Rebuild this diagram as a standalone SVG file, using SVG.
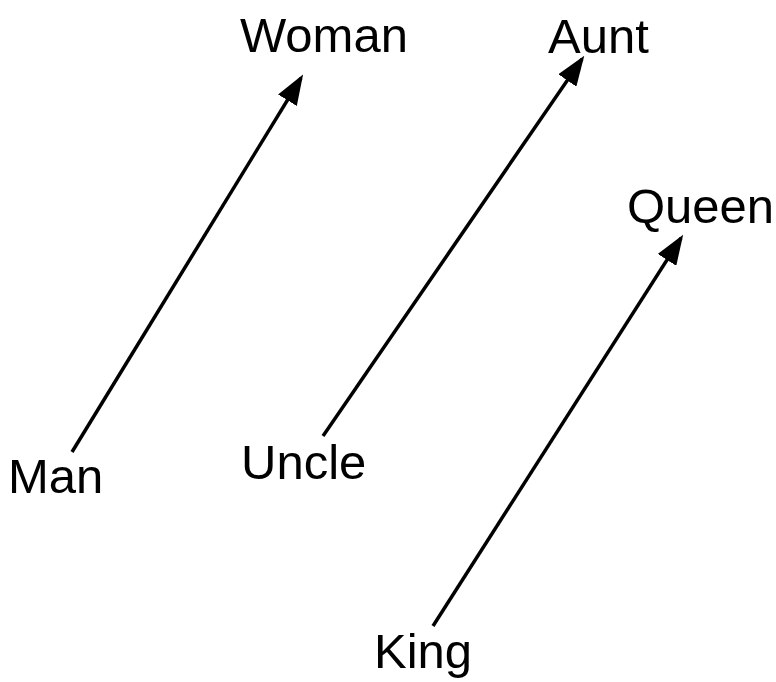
<svg xmlns="http://www.w3.org/2000/svg" width="776" height="682" viewBox="0 0 776 682">
<defs>
<style>
.lbl{font-family:"Liberation Sans",Arial,sans-serif;font-size:49px;fill:#000}
.edge{stroke:#000;stroke-width:3.5;fill:none}
</style>
<marker id="ah" viewBox="0 0 30 22" refX="26" refY="11" markerWidth="30" markerHeight="22" markerUnits="userSpaceOnUse" orient="auto">
<path d="M0,0 L30,11 L0,22 z" fill="#000"/>
</marker>
</defs>
<rect width="776" height="682" fill="#fff"/>
<g id="connectors">
<line class="edge" x1="72" y1="452" x2="301" y2="78" marker-end="url(#ah)"/>
<line class="edge" x1="323" y1="436" x2="582" y2="59" marker-end="url(#ah)"/>
<line class="edge" x1="433" y1="626" x2="681" y2="238" marker-end="url(#ah)"/>
</g>
<g id="man"><text class="lbl" x="8" y="493">Man</text></g>
<g id="woman"><text class="lbl" x="240" y="52">Woman</text></g>
<g id="uncle"><text class="lbl" x="241" y="479">Uncle</text></g>
<g id="aunt"><text class="lbl" x="548" y="53">Aunt</text></g>
<g id="king"><text class="lbl" x="374" y="668">King</text></g>
<g id="queen"><text class="lbl" x="627" y="223">Queen</text></g>
</svg>
